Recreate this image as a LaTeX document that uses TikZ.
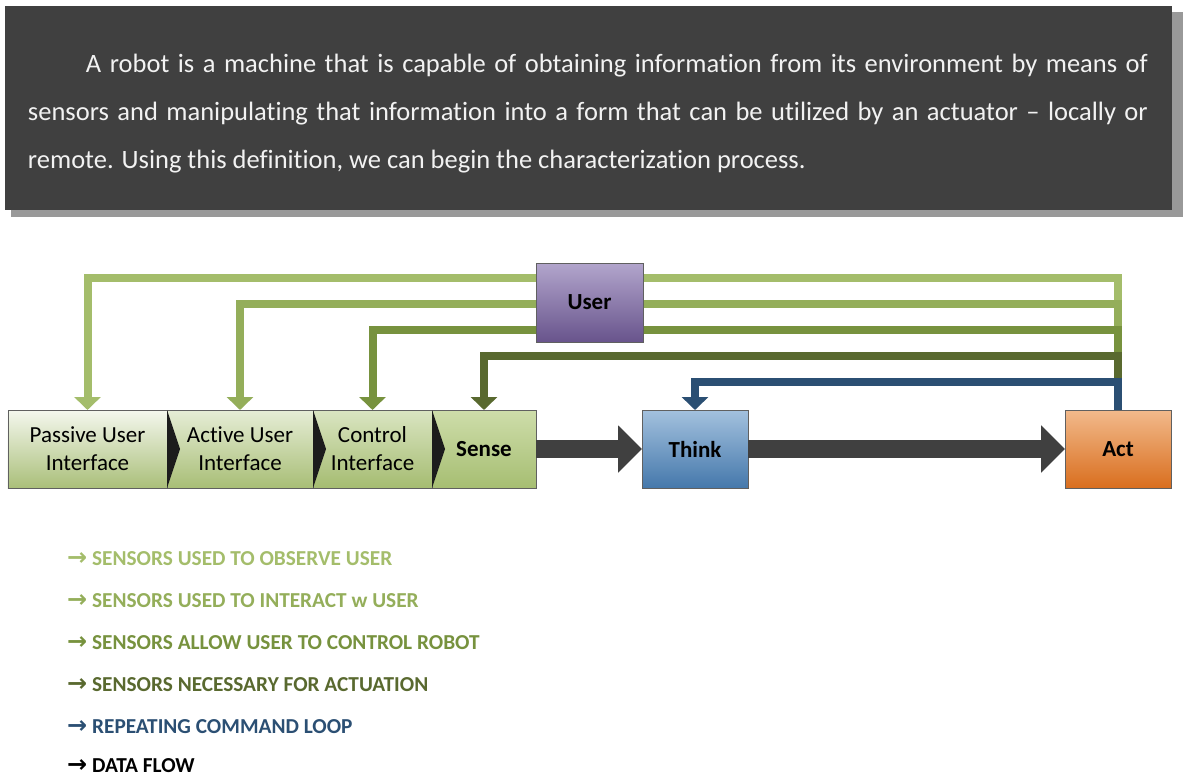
\documentclass[tikz,border=0pt]{standalone}
\usepackage{fontspec}
\setmainfont{Carlito}[Ligatures={NoCommon}]
\newfontfamily\arrowfont{DejaVu Sans}
\usetikzlibrary{positioning,arrows.meta}
\definecolor{hdrgray}{HTML}{404040}
\definecolor{shadowgray}{HTML}{999999}
\definecolor{introcol}{HTML}{F2F2F2}
\definecolor{obscol}{HTML}{A4BD6B}
\definecolor{interactcol}{HTML}{94AE5A}
\definecolor{controlcol}{HTML}{77923E}
\definecolor{actuatecol}{HTML}{59692F}
\definecolor{loopcol}{HTML}{2B4F73}
\definecolor{flowcol}{HTML}{404040}
\definecolor{chevdark}{HTML}{1C1C1C}
\newcommand{\legarrow}{{\arrowfont\fontsize{24bp}{24bp}\selectfont →}}
\tikzset{
  stagebox/.style={draw=gray!75!black, line width=0.6bp, minimum height=78bp,
    inner sep=0pt, outer sep=0pt, align=center,
    font=\fontsize{23bp}{28bp}\selectfont},
  fb/.style={line width=8bp, -{Triangle[width=26bp,length=13bp]}},
  flow/.style={flowcol, line width=18bp, -{Triangle[width=46bp,length=24bp]}},
  legend/.style={anchor=west, inner sep=0pt, font=\bfseries\fontsize{21.3bp}{24bp}\selectfont},
}
\begin{document}
\begin{tikzpicture}[x=1bp,y=-1bp]
  \useasboundingbox (0,0) rectangle (1183,777);
%%
  % Header
  \fill[shadowgray] (11,12) rectangle (1183,217);
  \fill[hdrgray] (5,6) rectangle (1172,210);
  \node[text=introcol, inner sep=0pt, align=left,
    font=\fontsize{26.5bp}{48bp}\selectfont] (intro) at (588,114)
    {\hspace*{58bp}\makebox[1062bp][s]{A robot is a machine that is capable of obtaining information from its environment by means of}\\
     \makebox[1120bp][s]{sensors and manipulating that information into a form that can be utilized by an actuator -- locally or}\\
     \makebox[1120bp][l]{remote. Using this definition, we can begin the characterization process.}};
  % Sensing stages
  \node[stagebox, minimum width=159bp,
    top color={rgb,255:red,244;green,247;blue,238}, bottom color={rgb,255:red,170;green,191;blue,121}]
    (pui) at (87.5,449) {Passive User\\Interface};
  \node[stagebox, minimum width=146bp, right=0pt of pui,
    top color={rgb,255:red,230;green,237;blue,214}, bottom color={rgb,255:red,168;green,190;blue,118}]
    (aui) {Active User\\Interface};
  \node[stagebox, minimum width=119bp, right=0pt of aui,
    top color={rgb,255:red,218;green,229;blue,194}, bottom color={rgb,255:red,165;green,188;blue,113}]
    (cui) {Control\\Interface};
  \node[stagebox, minimum width=104bp, right=0pt of cui, font=\bfseries\fontsize{23bp}{28bp}\selectfont,
    top color={rgb,255:red,206;green,221;blue,170}, bottom color={rgb,255:red,166;green,190;blue,114}]
    (sense) {Sense};
  \fill[chevdark] (aui.north west) -- ([xshift=13bp]aui.west) -- (aui.south west) -- cycle;
  \fill[chevdark] (cui.north west) -- ([xshift=13bp]cui.west) -- (cui.south west) -- cycle;
  \fill[chevdark] (sense.north west) -- ([xshift=13bp]sense.west) -- (sense.south west) -- cycle;
  % Think and Act
  \node[stagebox, minimum width=106bp, right=106bp of sense, font=\bfseries\fontsize{23bp}{28bp}\selectfont,
    top color={rgb,255:red,163;green,193;blue,222}, bottom color={rgb,255:red,69;green,120;blue,171}]
    (think) {Think};
  \node[stagebox, minimum width=106bp, right=317bp of think, font=\bfseries\fontsize{23bp}{28bp}\selectfont,
    top color={rgb,255:red,242;green,186;blue,140}, bottom color={rgb,255:red,217;green,110;blue,30}]
    (act) {Act};
  % Feedback levels
  \coordinate (lvobs) at (1117,277.5);
  \coordinate (lvint) at (1117,303.5);
  \coordinate (lvctl) at (1117,329.5);
  \coordinate (lvact) at (1117,355.5);
  \coordinate (lvloop) at (1117,381.5);
  % Edge: Act -> Passive User Interface
  \draw[fb, obscol] (act.north) -- (act.north |- lvobs) -| (pui.north);
  % Edge: Act -> Active User Interface
  \draw[fb, interactcol] (act.north) -- (act.north |- lvint) -| (aui.north);
  % Edge: Act -> Control Interface
  \draw[fb, controlcol] (act.north) -- (act.north |- lvctl) -| (cui.north);
  % Edge: Act -> Sense
  \draw[fb, actuatecol] (act.north) -- (act.north |- lvact) -| (sense.north);
  % Edge: Act -> Think
  \draw[fb, loopcol] (act.north) -- (act.north |- lvloop) -| (think.north);
  % Data flow
  \draw[flow] (sense.east) -- (think.west);
  \draw[flow] (think.east) -- (act.west);
  % Node: User
  \node[stagebox, minimum width=107bp, minimum height=79bp, font=\bfseries\fontsize{23bp}{28bp}\selectfont,
    top color={rgb,255:red,178;green,165;blue,204}, bottom color={rgb,255:red,104;green,84;blue,140}]
    (user) at (589.5,302.5) {User};
  % Legend
  \node[legend, text=obscol] (legobs) at (67,559) {\legarrow{} SENSORS USED TO OBSERVE USER};
  \node[legend, text=interactcol] (legint) at (67,601) {\legarrow{} SENSORS USED TO INTERACT w USER};
  \node[legend, text=controlcol] (legctl) at (67,643) {\legarrow{} SENSORS ALLOW USER TO CONTROL ROBOT};
  \node[legend, text=actuatecol] (legact) at (67,685) {\legarrow{} SENSORS NECESSARY FOR ACTUATION};
  \node[legend, text=loopcol] (legloop) at (67,727) {\legarrow{} REPEATING COMMAND LOOP};
  \node[legend, text=black] (legflow) at (67,766) {\legarrow{} DATA FLOW};
%
\end{tikzpicture}
\end{document}
